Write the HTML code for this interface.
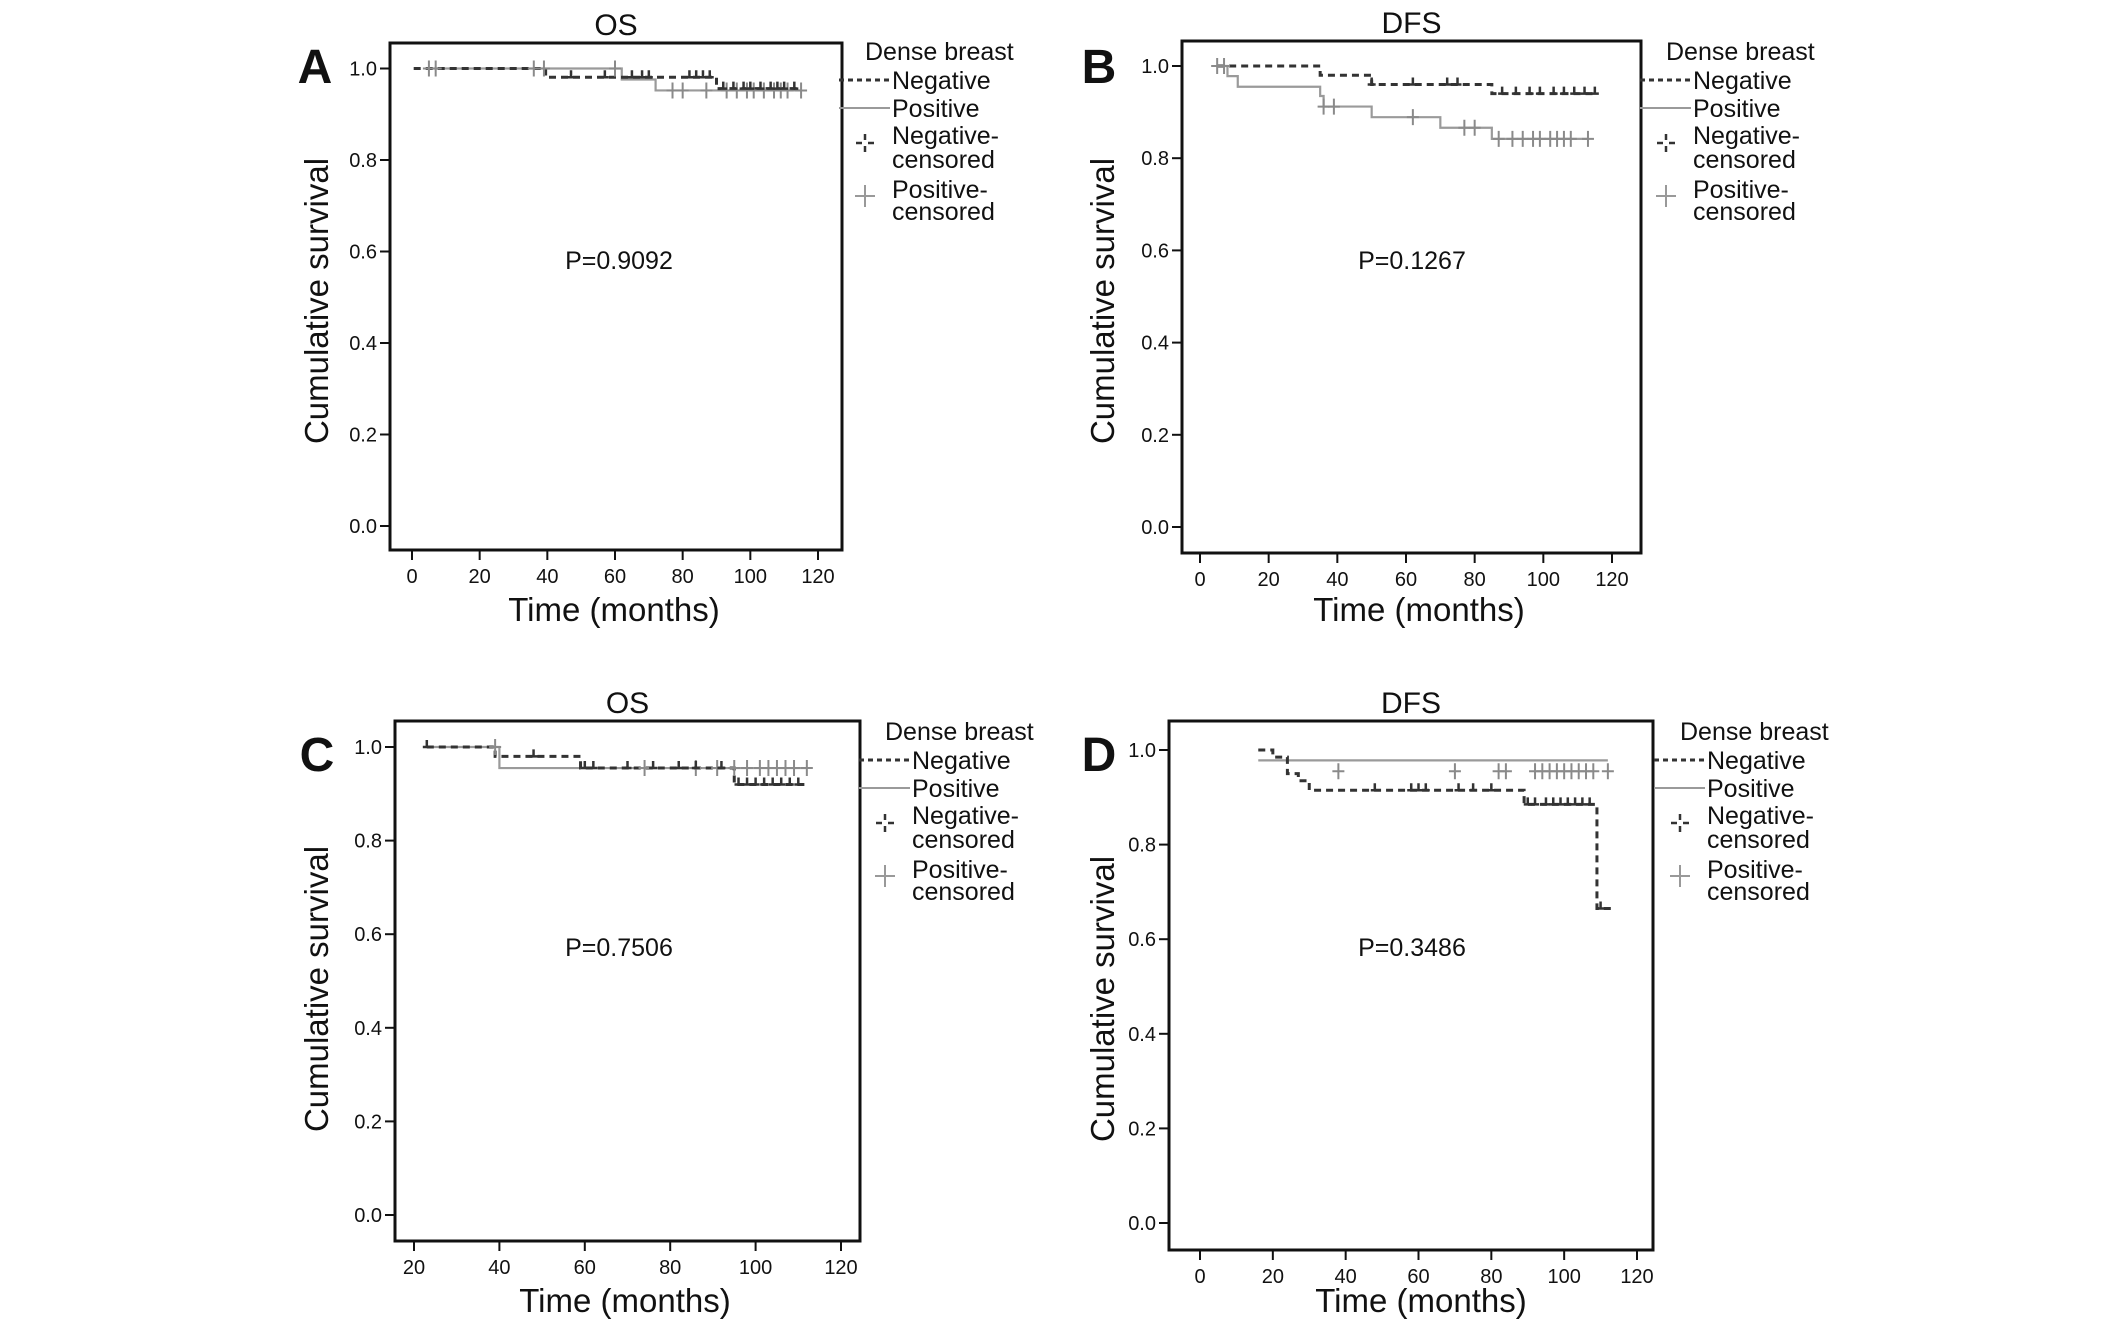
<!DOCTYPE html>
<html><head><meta charset="utf-8">
<style>
body{margin:0;background:#fff;}
svg{display:block;font-family:"Liberation Sans",Arial,sans-serif;}
</style></head>
<body>
<svg id="fig" width="2126" height="1322" viewBox="0 0 2126 1322" xmlns="http://www.w3.org/2000/svg"></svg>
<script>
// ---- Panel A (OS) data ----
const aNegTimes = [0.5, 39.5, 90, 115];
const aNegSurv  = [1.0, 0.981, 0.956, 0.956];
const aPosTimes = [5, 62, 72, 115];
const aPosSurv  = [1.0, 0.976, 0.952, 0.952];
const aNegCens  = [47, 57, 65, 68, 70, 82, 84, 86, 88, 92, 95, 98, 100, 103, 106, 108, 110, 113];
const aPosCens  = [5, 7, 36, 39, 60, 77, 80, 87, 93, 96, 99, 101, 104, 107, 109, 111, 115];
// ---- Panel B (DFS) data ----
const bNegTimes = [5, 35, 50, 85, 115];
const bNegSurv  = [1.0, 0.98, 0.96, 0.94, 0.94];
const bPosTimes = [5, 8, 11, 35, 36, 50, 70, 85, 113];
const bPosSurv  = [1.0, 0.978, 0.955, 0.935, 0.912, 0.889, 0.866, 0.842, 0.842];
const bNegCens  = [50, 62, 72, 75, 88, 92, 96, 99, 103, 106, 109, 112, 115];
const bPosCens  = [5, 7, 36, 39, 62, 77, 80, 87, 91, 94, 97, 99, 102, 104, 106, 108, 113];
// ---- Panel C (OS) data ----
const cNegTimes = [23, 39, 59, 95, 112];
const cNegSurv  = [1.0, 0.98, 0.955, 0.92, 0.92];
const cPosTimes = [23, 40, 112];
const cPosSurv  = [1.0, 0.955, 0.955];
const cNegCens  = [23, 48, 60, 62, 70, 76, 82, 86, 92, 96, 98, 100, 102, 104, 106, 108, 110];
const cPosCens  = [39, 74, 86, 91, 95, 98, 101, 103, 105, 107, 109, 112];
// ---- Panel D (DFS) data ----
const dNegTimes = [16, 20, 24, 27, 30, 89, 109, 113];
const dNegSurv  = [1.0, 0.985, 0.95, 0.935, 0.915, 0.885, 0.665, 0.665];
const dPosTimes = [16, 112];
const dPosSurv  = [0.978, 0.978];
const dNegCens  = [48, 58, 60, 62, 71, 75, 80, 90, 92, 95, 97, 99, 101, 103, 105, 107, 110];
const dPosCens  = [38, 70, 82, 84, 92, 94, 96, 98, 100, 102, 104, 106, 108, 112];
const dPosCensY = 0.955;
// ---- tick labels ----
const yTickLabels = ["0.0","0.2","0.4","0.6","0.8","1.0"];
const yTickVals = [0, 0.2, 0.4, 0.6, 0.8, 1.0];
const xTicksFull = [0, 20, 40, 60, 80, 100, 120];
const xTicksC = [20, 40, 60, 80, 100, 120];

const NS = "http://www.w3.org/2000/svg";
const svg = document.getElementById('fig');
function mk(tag, attrs, parent){ const e=document.createElementNS(NS,tag); for(const k in attrs) e.setAttribute(k,attrs[k]); (parent||svg).appendChild(e); return e; }
function txt(s, attrs, parent){ const e=mk('text',attrs,parent); e.textContent=s; return e; }

function panel(p){
  const g = mk('g',{});
  
  
  const sx = t => p.x0px + (t - p.x0v) * (p.x1px - p.x0px) / (p.x1v - p.x0v);
  const sy = v => p.y0px + v * (p.y1px - p.y0px);
  const box = mk('rect',{x:p.L,y:p.T,width:p.R-p.L,height:p.B-p.T,fill:'none',stroke:'#111','stroke-width':3},g);
  
  
  yTickVals.forEach((v,i)=>{
    const y=sy(v);
    const t=mk('line',{x1:p.L-10,x2:p.L,y1:y,y2:y,stroke:'#111','stroke-width':2},g);
    
    
    const l=txt(yTickLabels[i],{x:p.L-13,y:y+7,'font-size':20,'text-anchor':'end',fill:'#111'},g);
    
    
  });
  p.xticks.forEach(v=>{
    const x=sx(v);
    const t=mk('line',{x1:x,x2:x,y1:p.B,y2:p.B+10,stroke:'#111','stroke-width':2},g);
    
    
    const l=txt(String(v),{x:x,y:p.B+33,'font-size':20,'text-anchor':'middle',fill:'#111'},g);
    
    
  });
  function step(times, surv, color, dash, w, name){
    let d='M'+sx(times[0])+','+sy(surv[0]);
    for(let i=1;i<times.length;i++){ d+=' H'+sx(times[i])+' V'+sy(surv[i]); }
    const a={d:d,fill:'none',stroke:color,'stroke-width':w};
    if(dash) a['stroke-dasharray']=dash;
    const e=mk('path',a,g);
    
    
  }
  function survAt(times,surv,t){ let s=surv[0]; for(let i=0;i<times.length;i++){ if(times[i]<=t) s=surv[i]; } return s; }
  step(p.posT,p.posS,'#9a9a9a',null,2.2,'positive-curve');
  step(p.negT,p.negS,'#333',"7,5",3,'negative-curve');
  p.posC.forEach(t=>{
    const v = p.posCY!==undefined ? p.posCY : survAt(p.posT,p.posS,t);
    const x=sx(t), y=sy(v);
    const m=mk('path',{d:`M${x},${y-8}V${y+8}M${x-6},${y}H${x+6}`,stroke:'#8a8a8a','stroke-width':2},g);
    
    
  });
  p.negC.forEach(t=>{
    const v=survAt(p.negT,p.negS,t);
    const x=sx(t), y=sy(v);
    const m=mk('path',{d:`M${x},${y-7}V${y+1}M${x-4},${y}H${x+4}`,stroke:'#333','stroke-width':2.5},g);
    
    
  });
  let e=txt(p.title,{x:(p.L+p.R)/2,y:p.T-8,'font-size':30,'text-anchor':'middle',fill:'#111'},g);
   
  e=txt(p.letter,{x:p.letX,y:p.letY,'font-size':48,'font-weight':'bold','text-anchor':'middle',fill:'#111'},g);
   
  e=txt(p.pval,{x:p.pX,y:p.pY,'font-size':25,'text-anchor':'middle',fill:'#111'},g);
   
  e=txt('Time (months)',{x:p.xtX,y:p.xtY,'font-size':33,'text-anchor':'middle',fill:'#111'},g);
   
  e=txt('Cumulative survival',{x:0,y:0,'font-size':33,'text-anchor':'middle',fill:'#111',transform:`translate(${p.ytX},${p.ytY}) rotate(-90)`},g);
   
  const lg=mk('g',{},g);
   
  const lx=p.lgX, ly=p.lgY, tx=lx+25;
  e=txt('Dense breast',{x:lx-2,y:ly+9,'font-size':25,fill:'#111'},lg);
   
  let s=mk('line',{x1:lx-28,x2:lx+23,y1:ly+29,y2:ly+29,stroke:'#333','stroke-width':3,'stroke-dasharray':'5,4'},lg);
   
  e=txt('Negative',{x:tx,y:ly+38,'font-size':25,fill:'#111'},lg);
   
  s=mk('line',{x1:lx-28,x2:lx+23,y1:ly+57,y2:ly+57,stroke:'#9a9a9a','stroke-width':2},lg);
   
  e=txt('Positive',{x:tx,y:ly+66,'font-size':25,fill:'#111'},lg);
   
  const nx=lx-2, ny=ly+92;
  s=mk('path',{d:`M${nx},${ny-9}V${ny-3}M${nx},${ny+3}V${ny+9}M${nx-9},${ny}H${nx-3}M${nx+3},${ny}H${nx+9}`,stroke:'#333','stroke-width':2.5},lg);
   
  e=txt('Negative-',{x:tx,y:ly+93,'font-size':25,fill:'#111'},lg);
   
  e=txt('censored',{x:tx,y:ly+117,'font-size':25,fill:'#111'},lg);
   
  const px=lx-2, py=ly+145;
  s=mk('path',{d:`M${px},${py-11}V${py+11}M${px-10},${py}H${px+10}`,stroke:'#999','stroke-width':2},lg);
   
  e=txt('Positive-',{x:tx,y:ly+147,'font-size':25,fill:'#111'},lg);
   
  e=txt('censored',{x:tx,y:ly+169,'font-size':25,fill:'#111'},lg);
   
}

panel({id:'a',title:'OS',letter:'A',pval:'P=0.9092',L:390,R:842,T:43,B:550,
  x0v:0,x1v:120,x0px:412,x1px:818,y0px:526,y1px:68.5,xticks:xTicksFull,
  negT:aNegTimes,negS:aNegSurv,posT:aPosTimes,posS:aPosSurv,negC:aNegCens,posC:aPosCens,
  letX:315,letY:83,pX:619,pY:269,xtX:614,xtY:621,ytX:328,ytY:301,lgX:867,lgY:51});
panel({id:'b',title:'DFS',letter:'B',pval:'P=0.1267',L:1182,R:1641,T:41,B:553,
  x0v:0,x1v:120,x0px:1200,x1px:1612,y0px:527,y1px:66,xticks:xTicksFull,
  negT:bNegTimes,negS:bNegSurv,posT:bPosTimes,posS:bPosSurv,negC:bNegCens,posC:bPosCens,
  letX:1099,letY:83,pX:1412,pY:269,xtX:1419,xtY:621,ytX:1114,ytY:301,lgX:1668,lgY:51});
panel({id:'c',title:'OS',letter:'C',pval:'P=0.7506',L:395,R:860,T:721,B:1241,
  x0v:20,x1v:120,x0px:414,x1px:841,y0px:1215,y1px:747,xticks:xTicksC,
  negT:cNegTimes,negS:cNegSurv,posT:cPosTimes,posS:cPosSurv,negC:cNegCens,posC:cPosCens,
  letX:317,letY:771,pX:619,pY:956,xtX:625,xtY:1312,ytX:328,ytY:989,lgX:887,lgY:731});
panel({id:'d',title:'DFS',letter:'D',pval:'P=0.3486',L:1169,R:1653,T:721,B:1250,
  x0v:0,x1v:120,x0px:1200,x1px:1637,y0px:1223,y1px:750,xticks:xTicksFull,
  negT:dNegTimes,negS:dNegSurv,posT:dPosTimes,posS:dPosSurv,negC:dNegCens,posC:dPosCens,posCY:dPosCensY,
  letX:1099,letY:771,pX:1412,pY:956,xtX:1421,xtY:1312,ytX:1114,ytY:999,lgX:1682,lgY:731});
</script>
</body></html>
